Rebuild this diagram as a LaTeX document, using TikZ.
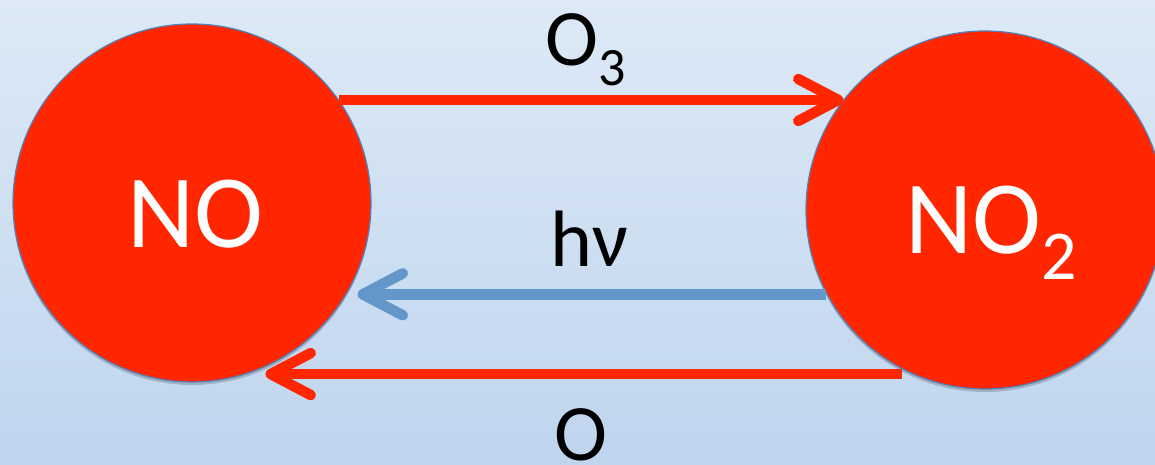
\documentclass[tikz,border=0pt]{standalone}
\usepackage{fontspec}
\setmainfont{Carlito}
\usetikzlibrary{arrows.meta,shadows,calc}
\definecolor{bgtop}{RGB}{221,233,246}
\definecolor{bgbot}{RGB}{191,213,238}
\definecolor{nored}{RGB}{255,38,0}
\definecolor{rim}{RGB}{79,129,189}
\definecolor{hvblue}{RGB}{99,150,201}
\begin{document}
\begin{tikzpicture}[x=1pt,y=-1pt,
  species/.style={circle, fill=nored, draw=rim, line width=1.2pt,
    minimum size=358pt, inner sep=0pt,
    drop shadow={shadow xshift=0pt, shadow yshift=-3pt, opacity=0.18, fill=black}},
  bigtext/.style={inner sep=0pt, anchor=base, text=white,
    font=\fontsize{104}{110}\selectfont},
  lbltext/.style={inner sep=0pt, anchor=base, text=black,
    font=\fontsize{80}{90}\selectfont},
  flow/.style={line width=10.5pt,
    -{Straight Barb[length=40pt,width=42pt,round]}}
]
\useasboundingbox (0,0) rectangle (1155,465);
\clip (0,0) rectangle (1155,465);
\shade[top color=bgtop, bottom color=bgbot] (0,0) rectangle (1155,465);

\node[species] (NO) at (192,203) {};
\node[species] (NO2) at (985,210) {};

\node[bigtext] (NOlbl) at (195,247) {NO};
\node[bigtext] (NO2lbl) at (991,253) {NO\raisebox{-26pt}{\fontsize{70}{70}\selectfont 2}};

\draw[flow, nored] (NO.35) -- (NO.35 -| NO2.142);
\draw[flow, hvblue, shorten >=10pt] (NO2.208) -- (NO2.208 -| NO.-30);
\draw[flow, nored, shorten <=10pt, shorten >=18pt] (NO2.246) -- (NO2.246 -| NO.-72);

\node[lbltext] (ozone) at (586,66) {O\raisebox{-20pt}{\fontsize{54}{54}\selectfont 3}};
\node[lbltext] (light) at (589,266) {hν};
\node[lbltext] (oxy) at (581,460) {O};
\end{tikzpicture}
\end{document}
